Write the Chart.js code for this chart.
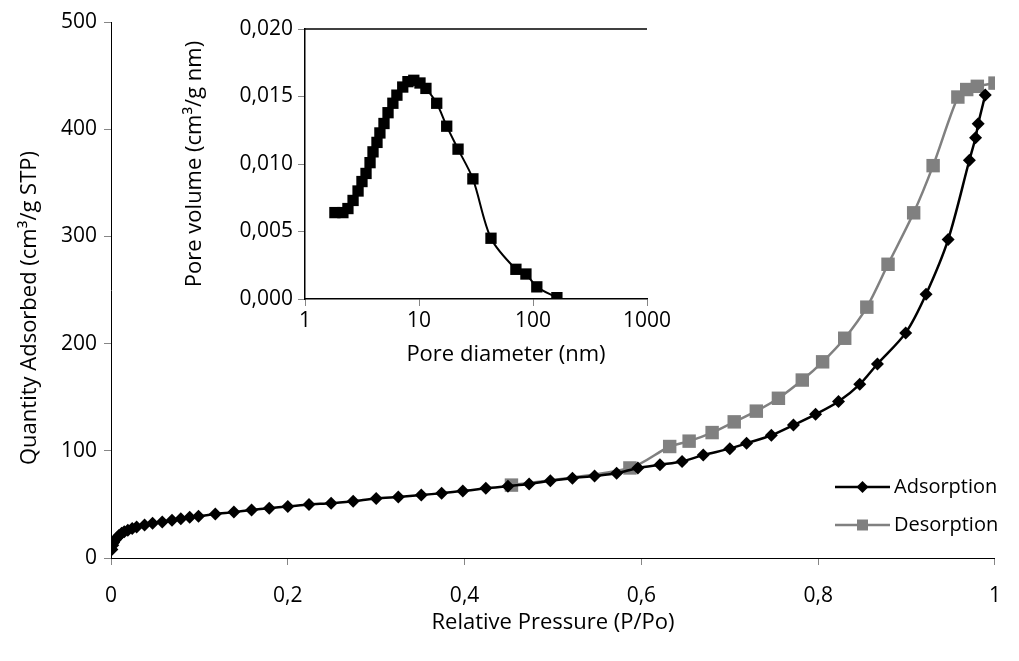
<!DOCTYPE html>
<html>
<head>
<meta charset="utf-8">
<script src="https://cdn.jsdelivr.net/npm/chart.js@4/dist/chart.umd.min.js"></script>
<style>
  html, body { margin: 0; padding: 0; background: #fff; }
  #wrap { position: relative; width: 1019px; height: 661px; }
  #main { position: absolute; left: 0; top: 0; }
  #inset { position: absolute; left: 180px; top: 0; }
</style>
</head>
<body>
<div id="wrap">
  <canvas id="main" width="1019" height="661"></canvas>
  <canvas id="inset" width="520" height="380"></canvas>
</div>
<script>
// isotherm - adsorption branch
const pressureAds = [0.001, 0.002, 0.003, 0.005, 0.007, 0.009, 0.012, 0.015, 0.019, 0.024, 0.029, 0.038, 0.047, 0.058, 0.069, 0.079, 0.089, 0.099, 0.118, 0.139, 0.159, 0.179, 0.200, 0.224, 0.249, 0.274, 0.300, 0.325, 0.351, 0.374, 0.398, 0.424, 0.449, 0.473, 0.497, 0.522, 0.547, 0.572, 0.596, 0.621, 0.646, 0.670, 0.700, 0.719, 0.747, 0.772, 0.797, 0.823, 0.847, 0.867, 0.899, 0.922, 0.947, 0.971, 0.978, 0.981, 0.989];
const quantityAds = [8, 12, 14.5, 17, 19, 21, 23, 24.5, 26, 27.5, 29, 30.7, 32.3, 33.5, 35.3, 36.6, 38, 39, 41, 42.8, 44.8, 46.5, 48, 50, 51, 53, 55.5, 57, 58.7, 60.5, 62.4, 65, 67, 69, 72, 74.5, 76.5, 79, 84, 87, 90, 96, 102, 107, 114.5, 124, 134, 146, 162, 181, 210, 246, 297, 371, 392, 405, 432];

// isotherm - desorption branch
const pressureDes = [0.453, 0.587, 0.632, 0.654, 0.680, 0.705, 0.730, 0.755, 0.782, 0.805, 0.830, 0.855, 0.879, 0.908, 0.930, 0.958, 0.968, 0.980, 1.0];
const quantityDes = [68, 84, 104, 109, 117, 127, 137, 149, 166, 183, 205, 234, 274, 322, 366, 430, 437, 440, 443];

// inset: pore size distribution
const poreDiameter = [1.83, 2.15, 2.38, 2.64, 2.92, 3.16, 3.43, 3.72, 3.95, 4.28, 4.54, 4.93, 5.35, 5.9, 6.4, 7.2, 8.0, 9.0, 10.2, 11.5, 14.3, 17.5, 22.0, 29.7, 42.8, 70.8, 86.7, 108, 162];
const poreVolume = [0.0064, 0.0064, 0.0067, 0.0073, 0.0080, 0.0087, 0.0093, 0.0101, 0.0109, 0.0116, 0.0123, 0.0130, 0.0138, 0.0145, 0.0151, 0.0157, 0.0161, 0.0162, 0.0160, 0.0156, 0.0145, 0.0128, 0.0111, 0.0089, 0.0045, 0.0022, 0.00185, 0.0009, 0.0001];

const mainTicksX = [0, 0.2, 0.4, 0.6, 0.8, 1];
const insetTicksX = [1, 10, 100, 1000];

const FONT = 'Open Sans';
const TICK_SIZE = 21;
const TITLE_SIZE = 22;
const LEGEND_SIZE = 20;
const TXT = '#000';

function comma(v, d) {
    return Number(v).toFixed(d).replace('.', ',').replace(/,0+$/, '');
}

function toPoints(xs, ys) {
    return xs.map((x, i) => ({x: x, y: ys[i]}));
}

// legend drawn inside the plot, bottom right
const insideLegend = {
    id: 'insideLegend',
    afterDraw(chart) {
        const ctx = chart.ctx;
        const area = chart.chartArea;
        const x0 = area.right - 160;
        const rows = [area.bottom - 71, area.bottom - 33];
        chart.data.datasets.forEach((ds, i) => {
            const y = rows[i];
            const cx = x0 + 27.5;
            ctx.save();
            ctx.strokeStyle = ds.borderColor;
            ctx.lineWidth = ds.borderWidth;
            ctx.beginPath();
            ctx.moveTo(x0, y);
            ctx.lineTo(x0 + 55, y);
            ctx.stroke();
            ctx.fillStyle = ds.pointBackgroundColor;
            ctx.beginPath();
            if (ds.pointStyle === 'rect') {
                ctx.rect(cx - 5.5, y - 5.5, 11, 11);
            } else {
                ctx.moveTo(cx, y - 6);
                ctx.lineTo(cx + 6, y);
                ctx.lineTo(cx, y + 6);
                ctx.lineTo(cx - 6, y);
                ctx.closePath();
            }
            ctx.fill();
            ctx.fillStyle = TXT;
            ctx.font = LEGEND_SIZE + 'px ' + FONT;
            ctx.textAlign = 'left';
            ctx.textBaseline = 'middle';
            ctx.fillText(ds.label, x0 + 59, y);
            ctx.restore();
        });
    }
};

// y title of the main chart, sits a bit below the axis centre like in the original
const mainYTitle = {
    id: 'mainYTitle',
    afterDraw(chart) {
        const ctx = chart.ctx;
        const a = chart.chartArea;
        ctx.save();
        ctx.translate(30, (a.top + a.bottom) / 2 + 18);
        ctx.rotate(-Math.PI / 2);
        ctx.fillStyle = TXT;
        ctx.font = TITLE_SIZE + 'px ' + FONT;
        ctx.textAlign = 'center';
        ctx.textBaseline = 'middle';
        ctx.fillText('Quantity Adsorbed (cm³/g STP)', 0, 0);
        ctx.restore();
    }
};

const mainChart = new Chart(document.getElementById('main').getContext('2d'), {
    type: 'scatter',
    data: {
        datasets: [
            {
                label: 'Adsorption',
                data: toPoints(pressureAds, quantityAds),
                showLine: true,
                tension: 0.3,
                borderColor: '#000',
                borderWidth: 2.5,
                pointStyle: 'rectRot',
                pointRadius: 6.5,
                pointBackgroundColor: '#000',
                pointBorderWidth: 0,
                order: 1
            },
            {
                label: 'Desorption',
                data: toPoints(pressureDes, quantityDes),
                showLine: true,
                tension: 0.3,
                borderColor: '#808080',
                borderWidth: 2.5,
                pointStyle: 'rect',
                pointRadius: 9.5,
                pointBackgroundColor: '#808080',
                pointBorderWidth: 0,
                order: 2
            }
        ]
    },
    options: {
        responsive: false,
        animation: false,
        layout: {padding: {left: 11, top: 22, right: 21, bottom: 25}},
        plugins: {
            legend: {display: false},
            tooltip: {enabled: false}
        },
        scales: {
            x: {
                type: 'linear',
                min: 0,
                max: 1,
                afterBuildTicks: (s) => { s.ticks = mainTicksX.map(v => ({value: v})); },
                afterFit: (s) => { s.height = 78; },
                grid: {display: true, drawOnChartArea: false, drawTicks: true, tickLength: 7, color: '#868686'},
                border: {color: '#000', width: 1},
                ticks: {
                    color: TXT, font: {family: FONT, size: TICK_SIZE}, padding: 18,
                    callback: (v) => comma(v, 1)
                },
                title: {display: true, text: 'Relative Pressure (P/Po)', color: TXT, font: {family: FONT, size: TITLE_SIZE}, padding: {top: 4, bottom: 0}}
            },
            y: {
                min: 0,
                max: 500,
                afterFit: (s) => { s.width = 100; },
                grid: {display: true, drawOnChartArea: false, drawTicks: true, tickLength: 7, color: '#868686'},
                border: {color: '#000', width: 1},
                ticks: {
                    stepSize: 100, color: TXT, font: {family: FONT, size: TICK_SIZE}, padding: 7
                },
                title: {display: false}
            }
        }
    },
    plugins: [insideLegend, mainYTitle]
});

const insetChart = new Chart(document.getElementById('inset').getContext('2d'), {
    type: 'scatter',
    data: {
        datasets: [
            {
                label: 'Pore volume',
                data: toPoints(poreDiameter, poreVolume),
                showLine: true,
                tension: 0.3,
                borderColor: '#000',
                borderWidth: 2,
                pointStyle: 'rect',
                pointRadius: 8,
                pointBackgroundColor: '#000',
                pointBorderWidth: 0
            }
        ]
    },
    options: {
        responsive: false,
        animation: false,
        layout: {padding: {left: 2, top: 29, right: 53, bottom: 12}},
        plugins: {
            legend: {display: false},
            tooltip: {enabled: false}
        },
        scales: {
            x: {
                type: 'logarithmic',
                min: 1,
                max: 1000,
                afterBuildTicks: (s) => { s.ticks = insetTicksX.map(v => ({value: v})); },
                afterFit: (s) => { s.height = 69; },
                grid: {display: true, drawOnChartArea: false, drawTicks: true, tickLength: 7, color: '#868686'},
                border: {color: '#000', width: 1.5},
                ticks: {
                    color: TXT, font: {family: FONT, size: TICK_SIZE}, padding: 2,
                    callback: (v) => String(v)
                },
                title: {display: false}
            },
            y: {
                min: 0,
                max: 0.02,
                afterFit: (s) => { s.width = 123; },
                grid: {display: true, drawOnChartArea: false, drawTicks: true, tickLength: 7, color: '#868686'},
                border: {color: '#000', width: 1.5},
                ticks: {
                    stepSize: 0.005, color: TXT, font: {family: FONT, size: TICK_SIZE}, padding: 5,
                    callback: (v) => Number(v).toFixed(3).replace('.', ',')
                },
                title: {display: true, text: 'Pore volume (cm³/g nm)', color: TXT, font: {family: FONT, size: TITLE_SIZE}, padding: {top: 0, bottom: 0}}
            }
        }
    },
    plugins: [{
        id: 'insetFrame',
        afterDraw(chart) {
            const ctx = chart.ctx;
            const a = chart.chartArea;
            ctx.save();
            // top border line of the inset plot
            ctx.strokeStyle = '#000';
            ctx.lineWidth = 1.5;
            ctx.beginPath();
            ctx.moveTo(a.left, a.top);
            ctx.lineTo(a.right, a.top);
            ctx.stroke();
            // x title, shifted right of the axis centre as in the original
            ctx.fillStyle = TXT;
            ctx.font = TITLE_SIZE + 'px ' + FONT;
            ctx.textAlign = 'center';
            ctx.textBaseline = 'middle';
            ctx.fillText('Pore diameter (nm)', (a.left + a.right) / 2 + 30, a.bottom + 56);
            ctx.restore();
        }
    }]
});
</script>
</body>
</html>
